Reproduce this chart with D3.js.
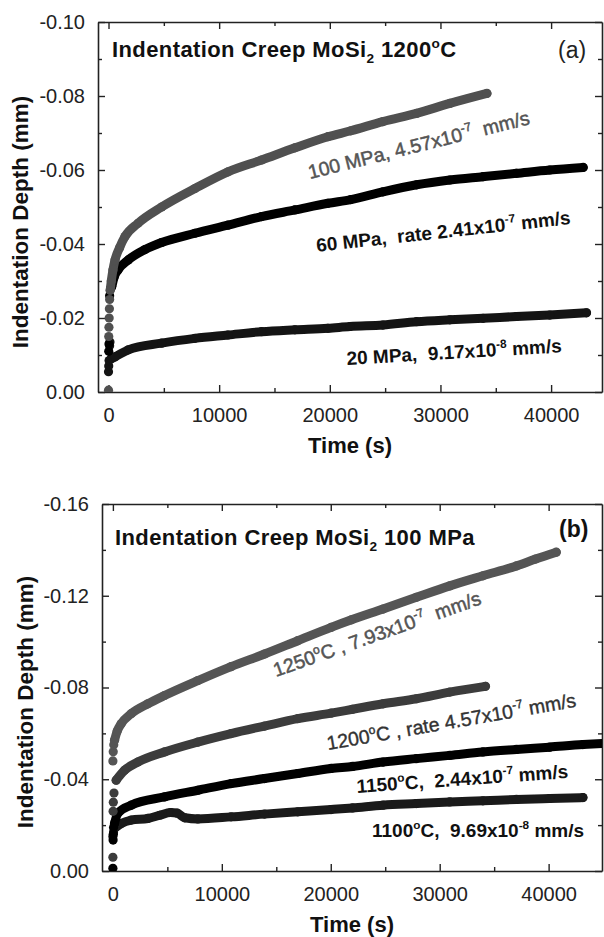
<!DOCTYPE html>
<html>
<head>
<meta charset="utf-8">
<script src="https://cdn.jsdelivr.net/npm/d3@7"></script>
<style>
  body { margin: 0; background: #fff; }
  svg text { font-family: "Liberation Sans", Arial, sans-serif; white-space: pre; }
</style>
</head>
<body>
<svg id="chart" width="604" height="937"></svg>
<script>
// ---- panel (a): 1200 C, different stresses ----
var tA100 = [0, 20, 40, 60, 80, 100, 150, 250, 400, 590, 1000, 1490, 2670, 4800, 7810, 10800, 13830, 16850, 19830, 21900, 24800, 27840, 30850, 34200];
var dA100 = [-0.0005, -0.015, -0.0175, -0.020, -0.0225, -0.025, -0.0275, -0.030, -0.033, -0.0357, -0.039, -0.042, -0.0456, -0.050, -0.055, -0.0595, -0.0627, -0.066, -0.069, -0.0706, -0.0731, -0.0753, -0.078, -0.0807];

var tA60 = [20, 40, 100, 200, 290, 500, 860, 1790, 3300, 4800, 7810, 10800, 13830, 16850, 19830, 21900, 24800, 27840, 30850, 33850, 36870, 39880, 42900];
var dA60 = [-0.011, -0.013, -0.026, -0.028, -0.0285, -0.031, -0.033, -0.0357, -0.0385, -0.0404, -0.0429, -0.0451, -0.0474, -0.0492, -0.051, -0.052, -0.0541, -0.056, -0.0573, -0.0582, -0.0591, -0.060, -0.0607];

var tA20 = [0, 20, 50, 100, 130, 250, 590, 1790, 4800, 7810, 10800, 13830, 16850, 19830, 21820, 24800, 27840, 30850, 33850, 36870, 39880, 43200];
var dA20 = [-0.0055, -0.007, -0.0085, -0.0125, -0.0135, -0.009, -0.0095, -0.0114, -0.0132, -0.0145, -0.0154, -0.0163, -0.0168, -0.0172, -0.0177, -0.0181, -0.019, -0.0195, -0.0199, -0.0204, -0.0208, -0.0214];

// ---- panel (b): 100 MPa, different temperatures ----
var tB1250 = [0, 30, 80, 150, 400, 760, 1680, 3210, 4740, 7800, 10850, 13920, 16970, 20030, 21900, 24800, 27860, 30920, 33970, 37040, 38800, 40700];
var dB1250 = [-0.048, -0.052, -0.055, -0.057, -0.061, -0.0642, -0.0686, -0.0729, -0.0765, -0.083, -0.0891, -0.0946, -0.1004, -0.1062, -0.1095, -0.1142, -0.1193, -0.1243, -0.1287, -0.133, -0.136, -0.139];

var tB1200 = [0, 20, 40, 100, 300, 1070, 2290, 4740, 7800, 10850, 13920, 16970, 20030, 22000, 24800, 27860, 30920, 34200];
var dB1200 = [-0.006, -0.026, -0.030, -0.034, -0.0396, -0.0439, -0.0475, -0.0519, -0.0562, -0.0599, -0.0632, -0.0664, -0.0688, -0.0705, -0.0729, -0.0751, -0.078, -0.0805];

var tB1150 = [0, 20, 40, 60, 150, 460, 1680, 4740, 7800, 10850, 13920, 16970, 20030, 22000, 24800, 27860, 30920, 33970, 37040, 40090, 43150, 45000];
var dB1150 = [-0.0012, -0.0135, -0.016, -0.019, -0.0207, -0.0252, -0.0287, -0.0323, -0.0352, -0.0381, -0.0403, -0.0425, -0.0447, -0.0456, -0.0475, -0.049, -0.0504, -0.0519, -0.053, -0.054, -0.0551, -0.0556];

var tB1100 = [0, 60, 150, 760, 1680, 3210, 4300, 5300, 5900, 6600, 7800, 10850, 13920, 16970, 20030, 22000, 24800, 27860, 30920, 33970, 37040, 40090, 43150];
var dB1100 = [-0.015, -0.017, -0.0186, -0.0207, -0.0222, -0.0229, -0.0243, -0.0255, -0.0252, -0.0232, -0.0227, -0.0236, -0.0248, -0.0258, -0.0268, -0.0275, -0.0287, -0.0294, -0.0301, -0.0306, -0.0312, -0.0316, -0.032];

var xTicks = [0, 10000, 20000, 30000, 40000];
var yTicksA = [0, -0.02, -0.04, -0.06, -0.08, -0.10];
var yTicksB = [0, -0.04, -0.08, -0.12, -0.16];

var svg = d3.select("#chart");

function zip(ts, ds) {
    return ts.map(function (t, i) { return { t: t, d: ds[i] }; });
}

// plain hyphen instead of the unicode minus d3 puts in
var fmtY = function (v) { return d3.format(".2f")(v).replace("\u2212", "-"); };

// text with superscript / subscript pieces
function addLabel(g, x, y, angle, parts, opts) {
    var size = opts.size;
    var txt = g.append("text")
        .attr("transform", "translate(" + x + "," + y + ") rotate(" + angle + ")")
        .attr("font-size", size)
        .attr("font-weight", opts.weight || "normal")
        .attr("fill", opts.fill || "#111")
        .attr("letter-spacing", opts.spacing || 0)
        .attr("text-anchor", opts.anchor || "start");
    if (opts.heavy) txt.attr("stroke", opts.fill).attr("stroke-width", opts.heavy);
    var shift = 0;
    parts.forEach(function (p) {
        var s = p[1] === "sup" ? -0.42 * size : p[1] === "sub" ? 0.28 * size : 0;
        txt.append("tspan")
            .attr("dy", s - shift)
            .attr("font-size", p[1] ? size * 0.62 : size)
            .text(p[0]);
        shift = s;
    });
    return txt;
}

function panel(cfg) {
    var x = d3.scaleLinear().domain(cfg.xDomain).range([cfg.left, cfg.right]);
    var y = d3.scaleLinear().domain(cfg.yDomain).range([cfg.bottom, cfg.top]);
    var g = svg.append("g");

    var minorX = d3.range(5000, 45000, 10000);

    // axes, ticks inward on all four sides
    var axes = [
        { ax: d3.axisBottom(x), tr: "translate(0," + cfg.bottom + ")", labels: true },
        { ax: d3.axisTop(x), tr: "translate(0," + cfg.top + ")", labels: false },
        { ax: d3.axisLeft(y), tr: "translate(" + cfg.left + ",0)", labels: true, isY: true },
        { ax: d3.axisRight(y), tr: "translate(" + cfg.right + ",0)", labels: false, isY: true }
    ];
    axes.forEach(function (a) {
        var major = a.ax.tickValues(a.isY ? cfg.yTicks : xTicks)
            .tickSizeInner(-7).tickSizeOuter(0).tickPadding(a.isY ? 13 : 16)
            .tickFormat(a.isY ? fmtY : d3.format("d"));
        var ga = g.append("g").attr("transform", a.tr).call(major);
        ga.select(".domain").attr("stroke", "#222").attr("stroke-width", 1.6);
        ga.selectAll(".tick line").attr("stroke", "#222").attr("stroke-width", 1.4);
        ga.selectAll(".tick text")
            .attr("font-family", "Liberation Sans, Arial, sans-serif")
            .attr("font-size", 20).attr("fill", "#222");
        if (!a.labels) ga.selectAll(".tick text").remove();

        var minor = a.ax.tickValues(a.isY ? cfg.minorY : minorX)
            .tickSizeInner(-4).tickFormat("");
        var gm = g.append("g").attr("transform", a.tr).call(minor);
        gm.select(".domain").remove();
        gm.selectAll(".tick line").attr("stroke", "#222").attr("stroke-width", 1.4);
    });

    var line = d3.line().curve(d3.curveMonotoneX)
        .x(function (p) { return x(p.t); }).y(function (p) { return y(p.d); });
    var clip = "clip" + cfg.id;
    g.append("clipPath").attr("id", clip).append("rect")
        .attr("x", cfg.left).attr("y", cfg.top)
        .attr("width", cfg.right - cfg.left).attr("height", cfg.bottom - cfg.top);
    var plot = g.append("g").attr("clip-path", "url(#" + clip + ")");

    cfg.series.forEach(function (s) {
        var pts = zip(s.t, s.d);
        plot.append("path").datum(pts.filter(function (p) { return p.t >= 150; }))
            .attr("d", line).attr("fill", "none").attr("stroke", s.color)
            .attr("stroke-width", 9).attr("stroke-linecap", "round").attr("stroke-linejoin", "round");
        plot.selectAll(null).data(pts).enter().append("circle")
            .attr("cx", function (p) { return x(p.t); })
            .attr("cy", function (p) { return y(p.d); })
            .attr("r", 4.6).attr("fill", s.color);
    });

    // axis titles
    g.append("text")
        .attr("x", (cfg.left + cfg.right) / 2).attr("y", cfg.bottom + 61)
        .attr("text-anchor", "middle").attr("font-size", 22).attr("font-weight", "bold")
        .attr("fill", "#111").text("Time (s)");
    g.append("text")
        .attr("transform", "translate(" + cfg.yLabelX + "," + cfg.yLabelY + ") rotate(-90)")
        .attr("text-anchor", "middle").attr("font-size", 22.5).attr("font-weight", "bold")
        .attr("fill", "#111").text("Indentation Depth (mm)");

    return { g: g, x: x, y: y };
}

var pa = panel({
    id: "a", left: 98, right: 602, top: 22, bottom: 392,
    xDomain: [-950, 44600], yDomain: [0, -0.10],
    yTicks: yTicksA, minorY: [-0.01, -0.03, -0.05, -0.07, -0.09],
    yLabelX: 28, yLabelY: 222,
    series: [
        { t: tA20, d: dA20, color: "#141414" },
        { t: tA60, d: dA60, color: "#000" },
        { t: tA100, d: dA100, color: "#505050" }
    ]
});

var pb = panel({
    id: "b", left: 102, right: 602, top: 504, bottom: 871,
    xDomain: [-1000, 44900], yDomain: [0, -0.16],
    yTicks: yTicksB, minorY: [-0.02, -0.06, -0.10, -0.14],
    yLabelX: 33, yLabelY: 702,
    series: [
        { t: tB1100, d: dB1100, color: "#1a1a1a" },
        { t: tB1150, d: dB1150, color: "#000" },
        { t: tB1200, d: dB1200, color: "#3c3c3c" },
        { t: tB1250, d: dB1250, color: "#555" }
    ]
});

// titles
addLabel(pa.g, 112, 57, 0, [["Indentation Creep MoSi"], ["2", "sub"], [" 1200"], ["o", "sup"], ["C"]],
    { size: 22, weight: "bold", spacing: 0.4 });
addLabel(pa.g, 558, 58, 0, [["(a)"]], { size: 23, fill: "#222" });
addLabel(pb.g, 115, 545, 0, [["Indentation Creep MoSi"], ["2", "sub"], [" 100 MPa"]],
    { size: 22, weight: "bold", spacing: 0.4 });
addLabel(pb.g, 559, 537, 0, [["(b)"]], { size: 23, weight: "bold" });

// curve annotations
addLabel(pa.g, 310, 179, -14, [["100 MPa, 4.57x10"], ["-7", "sup"], ["  mm/s"]], { size: 19.5, fill: "#555", heavy: 0.5 });
addLabel(pa.g, 317, 252, -6.3, [["60 MPa,  rate 2.41x10"], ["-7", "sup"], [" mm/s"]], { size: 19, weight: "bold" });
addLabel(pa.g, 347, 365, -3.4, [["20 MPa,  9.17x10"], ["-8", "sup"], [" mm/s"]], { size: 19, weight: "bold" });

addLabel(pb.g, 276, 677, -19.5, [["1250"], ["o", "sup"], ["C , 7.93x10"], ["-7", "sup"], ["  mm/s"]], { size: 19.5, fill: "#555", heavy: 0.5 });
addLabel(pb.g, 328, 750, -9.9, [["1200"], ["o", "sup"], ["C , rate 4.57x10"], ["-7", "sup"], [" mm/s"]], { size: 19.5, fill: "#333", heavy: 0.4 });
addLabel(pb.g, 357, 793, -4.1, [["1150"], ["o", "sup"], ["C,  2.44x10"], ["-7", "sup"], [" mm/s"]], { size: 19, weight: "bold" });
addLabel(pb.g, 372, 837, 0, [["1100"], ["o", "sup"], ["C,  9.69x10"], ["-8", "sup"], [" mm/s"]], { size: 19, weight: "bold" });
</script>
</body>
</html>
